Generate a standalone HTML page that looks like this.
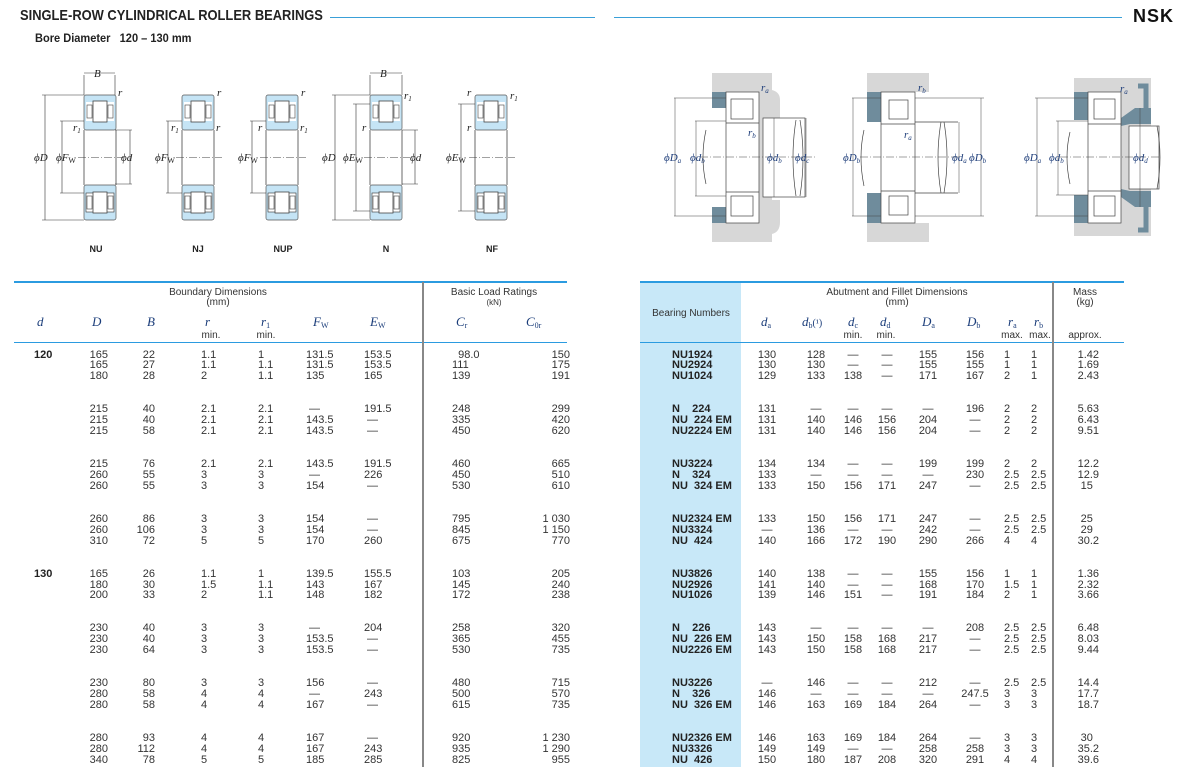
<!DOCTYPE html>
<html><head><meta charset="utf-8"><style>
*{margin:0;padding:0;box-sizing:border-box}
body{width:1189px;height:767px;background:#fff;position:relative;overflow:hidden;font-family:"Liberation Sans",sans-serif;color:#222}
.a{position:absolute}
.c{position:absolute;top:349.5px;white-space:pre;font-size:11px;line-height:10.95px;color:#333}
.b{font-weight:bold;color:#222}
.h{position:absolute;font-size:10px;color:#333;text-align:center;white-space:nowrap;line-height:10px}
.s{position:absolute;font-family:"Liberation Serif",serif;font-style:italic;font-size:13px;color:#1b3d7a;white-space:nowrap}
.s sub{font-size:8px;font-style:normal;vertical-align:-2px}
</style></head><body>
<div class="a" style="left:20px;top:7px;font-size:15px;font-weight:bold;transform:scaleX(0.86);transform-origin:left;white-space:nowrap;color:#222">SINGLE-ROW CYLINDRICAL ROLLER BEARINGS</div>
<div class="a" style="left:330px;top:17px;width:265px;height:1px;background:#3aa0d8"></div>
<div class="a" style="left:614px;top:17px;width:508px;height:1px;background:#3aa0d8"></div>
<div class="a" style="left:1133px;top:6px;font-size:18px;font-weight:bold;color:#111;letter-spacing:1px">NSK</div>
<div class="a" style="left:35px;top:33px;font-size:11.5px;font-weight:bold;transform:scaleX(0.96);transform-origin:left;white-space:pre;color:#222">Bore Diameter   120 – 130 mm</div>

<svg class="a" style="left:0;top:0" width="1189" height="270" viewBox="0 0 1189 270">
<defs>
<g id="brg">
<rect x="0" y="0" width="32" height="35" rx="2" fill="#c5e4f5" stroke="#555" stroke-width="0.7"/>
<rect x="2" y="7" width="28" height="19" fill="#fff" stroke="none"/>
<rect x="9" y="6" width="14" height="21" fill="#fff" stroke="#444" stroke-width="0.8"/>
<rect x="3" y="10" width="5" height="13" fill="#fff" stroke="#444" stroke-width="0.6"/>
<rect x="24" y="10" width="5" height="13" fill="#fff" stroke="#444" stroke-width="0.6"/>
<rect x="0" y="90" width="32" height="35" rx="2" fill="#c5e4f5" stroke="#555" stroke-width="0.7"/>
<rect x="2" y="98" width="28" height="19" fill="#fff"/>
<rect x="9" y="97" width="14" height="21" fill="#fff" stroke="#444" stroke-width="0.8"/>
<rect x="3" y="101" width="5" height="13" fill="#fff" stroke="#444" stroke-width="0.6"/>
<rect x="24" y="101" width="5" height="13" fill="#fff" stroke="#444" stroke-width="0.6"/>
<line x1="0" y1="35" x2="0" y2="90" stroke="#444" stroke-width="0.8"/>
<line x1="32" y1="35" x2="32" y2="90" stroke="#444" stroke-width="0.8"/>
<line x1="-6" y1="62.5" x2="40" y2="62.5" stroke="#444" stroke-width="0.6" stroke-dasharray="8,2,1,2"/>
</g>
</defs>
<g stroke="#333" stroke-width="0.6" fill="none">
<use href="#brg" x="84" y="95"/>
<use href="#brg" x="182" y="95"/>
<use href="#brg" x="266" y="95"/>
<use href="#brg" x="370" y="95"/>
<use href="#brg" x="475" y="95"/>
<path d="M84 75V95M115 75V95M84 73H115"/>
<path d="M42 95H84M42 220H84M45 95V220"/>
<path d="M60 121H84M60 193H84M62 121V193"/>
<path d="M115 130H132M115 184H132M130 130V184"/>
<path d="M166 121H182M166 193H182M168 121V193"/>
<path d="M250 121H266M250 193H266M252 121V193"/>
<path d="M370 75V95M402 75V95M370 73H402"/>
<path d="M332 95H370M332 220H370M335 95V220"/>
<path d="M353 104H370M353 211H370M356 104V211"/>
<path d="M402 130H418M402 184H418M415 130V184"/>
<path d="M458 104H475M458 211H475M461 104V211"/>
</g>
<g font-family="Liberation Serif,serif" font-style="italic" font-size="11" fill="#222">
<text x="94" y="77">B</text><text x="380" y="77">B</text>
<text x="118" y="96">r</text><text x="73" y="131">r<tspan font-size="7" dy="2">1</tspan></text>
<text x="34" y="161">ϕD</text><text x="56" y="161">ϕF<tspan font-size="8" dy="2" font-style="normal">W</tspan></text><text x="121" y="161">ϕd</text>
<text x="217" y="96">r</text><text x="216" y="131">r</text><text x="171" y="131">r<tspan font-size="7" dy="2">1</tspan></text>
<text x="155" y="161">ϕF<tspan font-size="8" dy="2" font-style="normal">W</tspan></text>
<text x="301" y="96">r</text><text x="300" y="131">r<tspan font-size="7" dy="2">1</tspan></text><text x="258" y="131">r</text>
<text x="238" y="161">ϕF<tspan font-size="8" dy="2" font-style="normal">W</tspan></text>
<text x="404" y="99">r<tspan font-size="7" dy="2">1</tspan></text><text x="362" y="131">r</text>
<text x="322" y="161">ϕD</text><text x="343" y="161">ϕE<tspan font-size="8" dy="2" font-style="normal">W</tspan></text><text x="410" y="161">ϕd</text>
<text x="467" y="96">r</text><text x="510" y="99">r<tspan font-size="7" dy="2">1</tspan></text><text x="467" y="131">r</text>
<text x="446" y="161">ϕE<tspan font-size="8" dy="2" font-style="normal">W</tspan></text>
</g>
<g font-family="Liberation Sans,sans-serif" font-weight="bold" font-size="9" fill="#222" text-anchor="middle">
<text x="96" y="252">NU</text><text x="198" y="252">NJ</text><text x="283" y="252">NUP</text><text x="386" y="252">N</text><text x="492" y="252">NF</text>
</g>

<g stroke="#444" stroke-width="0.7">
<path d="M712 73H772V90Q780 92 780 100V120H772V200H780V222Q780 232 772 234V242H712Z" fill="#d7d7d7" stroke="none"/>
<rect x="712" y="92" width="14" height="16" fill="#6f8c9c" stroke="none"/>
<rect x="712" y="207" width="14" height="16" fill="#6f8c9c" stroke="none"/>
<rect x="712" y="108" width="14" height="99" fill="#fff" stroke="none"/>
<rect x="726" y="92" width="33" height="131" fill="#fff"/>
<rect x="731" y="99" width="22" height="20" fill="#fff"/><rect x="731" y="196" width="22" height="20" fill="#fff"/>
<line x1="726" y1="123" x2="759" y2="123"/><line x1="726" y1="192" x2="759" y2="192"/>
<rect x="763" y="118" width="42" height="79" fill="#fff"/>
<path d="M706 130Q700 157 706 184M796 120Q790 157 796 196M800 120Q806 157 800 196" fill="none"/>
<line x1="674" y1="98" x2="726" y2="98" stroke-width="0.5"/><line x1="674" y1="216" x2="726" y2="216" stroke-width="0.5"/><line x1="675" y1="98" x2="675" y2="216" stroke-width="0.5"/>
<line x1="695" y1="121" x2="726" y2="121" stroke-width="0.5"/><line x1="695" y1="196" x2="726" y2="196" stroke-width="0.5"/><line x1="696" y1="121" x2="696" y2="196" stroke-width="0.5"/>
<line x1="774" y1="118" x2="774" y2="197" stroke-width="0.5"/><line x1="806" y1="118" x2="806" y2="197" stroke-width="0.5"/>
<line x1="700" y1="157" x2="815" y2="157" stroke-width="0.5" stroke-dasharray="8,2,1,2"/>
<path d="M867 73H929V92H915V223H929V242H867Z" fill="#d7d7d7" stroke="none"/>
<rect x="867" y="92" width="14" height="131" fill="#6f8c9c" stroke="none"/>
<rect x="867" y="122" width="14" height="71" fill="#fff" stroke="none"/>
<rect x="881" y="92" width="34" height="131" fill="#fff"/>
<rect x="889" y="100" width="19" height="19" fill="#fff"/><rect x="889" y="196" width="19" height="19" fill="#fff"/>
<line x1="881" y1="124" x2="915" y2="124"/><line x1="881" y1="191" x2="915" y2="191"/>
<path d="M915 122H958M915 193H958M864 130Q858 157 864 186M941 122Q935 157 941 193M944 122Q950 157 944 193" fill="none"/>
<line x1="852" y1="98" x2="881" y2="98" stroke-width="0.5"/><line x1="852" y1="216" x2="881" y2="216" stroke-width="0.5"/><line x1="853" y1="98" x2="853" y2="216" stroke-width="0.5"/>
<line x1="915" y1="98" x2="984" y2="98" stroke-width="0.5"/><line x1="915" y1="216" x2="984" y2="216" stroke-width="0.5"/><line x1="981" y1="98" x2="981" y2="216" stroke-width="0.5"/>
<line x1="959" y1="122" x2="959" y2="193" stroke-width="0.5"/>
<line x1="860" y1="157" x2="960" y2="157" stroke-width="0.5" stroke-dasharray="8,2,1,2"/>
<path d="M1074 78H1151V236H1074Z" fill="#d7d7d7" stroke="none"/>
<rect x="1074" y="92" width="14" height="131" fill="#6f8c9c" stroke="none"/>
<rect x="1074" y="120" width="14" height="75" fill="#fff" stroke="none"/>
<path d="M1121 118L1135 108H1151V124H1130L1121 126Z" fill="#6f8c9c" stroke="none"/>
<path d="M1121 197L1135 207H1151V191H1130L1121 189Z" fill="#6f8c9c" stroke="none"/>
<path d="M1138 86H1146V120M1138 230H1146V195" stroke="#6f8c9c" stroke-width="5" fill="none"/>
<rect x="1088" y="92" width="33" height="131" fill="#fff"/>
<rect x="1094" y="99" width="21" height="20" fill="#fff"/><rect x="1094" y="196" width="21" height="20" fill="#fff"/>
<line x1="1088" y1="124" x2="1121" y2="124"/><line x1="1088" y1="191" x2="1121" y2="191"/>
<rect x="1129" y="126" width="30" height="63" fill="#fff"/>
<path d="M1070 132Q1064 157 1070 184M1157 126Q1163 157 1157 189" fill="none"/>
<line x1="1035" y1="98" x2="1088" y2="98" stroke-width="0.5"/><line x1="1035" y1="216" x2="1088" y2="216" stroke-width="0.5"/><line x1="1037" y1="98" x2="1037" y2="216" stroke-width="0.5"/>
<line x1="1056" y1="121" x2="1088" y2="121" stroke-width="0.5"/><line x1="1056" y1="195" x2="1088" y2="195" stroke-width="0.5"/><line x1="1058" y1="121" x2="1058" y2="195" stroke-width="0.5"/>
<line x1="1140" y1="108" x2="1140" y2="207" stroke-width="0.5"/>
<line x1="1060" y1="157" x2="1160" y2="157" stroke-width="0.5" stroke-dasharray="8,2,1,2"/>
</g>
<g font-family="Liberation Serif,serif" font-style="italic" font-size="11" fill="#1f3e7a">
<text x="761" y="91">r<tspan font-size="7" dy="2">a</tspan></text><text x="748" y="136">r<tspan font-size="7" dy="2">b</tspan></text>
<text x="664" y="161">ϕD<tspan font-size="7" dy="2">a</tspan></text><text x="690" y="161">ϕd<tspan font-size="7" dy="2">b</tspan></text>
<text x="767" y="161">ϕd<tspan font-size="7" dy="2">b</tspan></text><text x="795" y="161">ϕd<tspan font-size="7" dy="2">c</tspan></text>
<text x="918" y="91">r<tspan font-size="7" dy="2">b</tspan></text><text x="904" y="138">r<tspan font-size="7" dy="2">a</tspan></text>
<text x="843" y="161">ϕD<tspan font-size="7" dy="2">b</tspan></text><text x="952" y="161">ϕd<tspan font-size="7" dy="2">a</tspan></text><text x="969" y="161">ϕD<tspan font-size="7" dy="2">b</tspan></text>
<text x="1120" y="92">r<tspan font-size="7" dy="2">a</tspan></text>
<text x="1024" y="161">ϕD<tspan font-size="7" dy="2">a</tspan></text><text x="1049" y="161">ϕd<tspan font-size="7" dy="2">b</tspan></text><text x="1133" y="161">ϕd<tspan font-size="7" dy="2">d</tspan></text>
</g>
</svg>

<div class="a" style="left:640px;top:282px;width:101px;height:485px;background:#c8e8f8"></div>
<div class="a" style="left:14px;top:281px;width:553px;height:2px;background:#2b9be0"></div>
<div class="a" style="left:14px;top:342px;width:553px;height:1px;background:#2b9be0"></div>
<div class="a" style="left:422px;top:282px;width:2px;height:485px;background:#888"></div>
<div class="a" style="left:640px;top:281px;width:484px;height:2px;background:#2b9be0"></div>
<div class="a" style="left:640px;top:342px;width:484px;height:1px;background:#2b9be0"></div>
<div class="a" style="left:1052px;top:282px;width:2px;height:485px;background:#888"></div>

<div class="h" style="left:168px;top:288px;width:100px">Boundary Dimensions<br>(mm)</div>
<div class="h" style="left:444px;top:288px;width:100px">Basic Load Ratings<br><span style="font-size:8px">(kN)</span></div>
<div class="s" style="left:37px;top:314px">d</div>
<div class="s" style="left:92px;top:314px">D</div>
<div class="s" style="left:147px;top:314px">B</div>
<div class="s" style="left:205px;top:314px">r</div>
<div class="s" style="left:261px;top:314px">r<sub>1</sub></div>
<div class="s" style="left:313px;top:314px">F<sub>W</sub></div>
<div class="s" style="left:370px;top:314px">E<sub>W</sub></div>
<div class="s" style="left:456px;top:314px">C<sub>r</sub></div>
<div class="s" style="left:526px;top:314px">C<sub>0r</sub></div>
<div class="h" style="left:196px;top:331px;width:30px">min.</div>
<div class="h" style="left:251px;top:331px;width:30px">min.</div>

<div class="h" style="left:641px;top:309px;width:100px">Bearing Numbers</div>
<div class="h" style="left:817px;top:288px;width:160px">Abutment and Fillet Dimensions<br>(mm)</div>
<div class="h" style="left:1060px;top:288px;width:50px">Mass<br>(kg)</div>
<div class="h" style="left:1060px;top:331px;width:50px">approx.</div>
<div class="s" style="left:761px;top:314px">d<sub>a</sub></div>
<div class="s" style="left:802px;top:314px">d<sub>b</sub><span style="font-style:normal;font-size:10px">(¹)</span></div>
<div class="s" style="left:848px;top:314px">d<sub>c</sub></div>
<div class="s" style="left:880px;top:314px">d<sub>d</sub></div>
<div class="s" style="left:922px;top:314px">D<sub>a</sub></div>
<div class="s" style="left:967px;top:314px">D<sub>b</sub></div>
<div class="s" style="left:1008px;top:314px">r<sub>a</sub></div>
<div class="s" style="left:1034px;top:314px">r<sub>b</sub></div>
<div class="h" style="left:838px;top:331px;width:30px">min.</div>
<div class="h" style="left:871px;top:331px;width:30px">min.</div>
<div class="h" style="left:997px;top:331px;width:30px">max.</div>
<div class="h" style="left:1025px;top:331px;width:30px">max.</div>

<div class="c b" style="left:34px">120



















130</div>
<div class="c" style="left:80px;width:28px;text-align:right">165
165
180


215
215
215


215
260
260


260
260
310


165
180
200


230
230
230


230
280
280


280
280
340</div>
<div class="c" style="left:130px;width:25px;text-align:right">22
27
28


40
40
58


76
55
55


86
106
72


26
30
33


40
40
64


80
58
58


93
112
78</div>
<div class="c" style="left:201px">1.1
1.1
2


2.1
2.1
2.1


2.1
3
3


3
3
5


1.1
1.5
2


3
3
3


3
4
4


4
4
5</div>
<div class="c" style="left:258px">1
1.1
1.1


2.1
2.1
2.1


2.1
3
3


3
3
5


1
1.1
1.1


3
3
3


3
4
4


4
4
5</div>
<div class="c" style="left:306px">131.5
131.5
135


 —
143.5
143.5


143.5
 —
154


154
154
170


139.5
143
148


 —
153.5
153.5


156
 —
167


167
167
185</div>
<div class="c" style="left:364px">153.5
153.5
165


191.5
 —
 —


191.5
226
 —


 —
 —
260


155.5
167
182


204
 —
 —


 —
243
 —


 —
243
285</div>
<div class="c" style="left:452px">  98.0
111
139


248
335
450


460
450
530


795
845
675


103
145
172


258
365
530


480
500
615


920
935
825</div>
<div class="c" style="left:530px;width:40px;text-align:right">150
175
191


299
420
620


665
510
610


1 030
1 150
770


205
240
238


320
455
735


715
570
735


1 230
1 290
955</div>

<div class="c b" style="left:672px">NU1924
NU2924
NU1024


N    224
NU  224 EM
NU2224 EM


NU3224
N    324
NU  324 EM


NU2324 EM
NU3324
NU  424


NU3826
NU2926
NU1026


N    226
NU  226 EM
NU2226 EM


NU3226
N    326
NU  326 EM


NU2326 EM
NU3326
NU  426</div>
<div class="c" style="left:752px;width:30px;text-align:center">130
130
129


131
131
131


134
133
133


133
—
140


140
141
139


143
143
143


—
146
146


146
149
150</div>
<div class="c" style="left:801px;width:30px;text-align:center">128
130
133


—
140
140


134
—
150


150
136
166


138
140
146


—
150
150


146
—
163


163
149
180</div>
<div class="c" style="left:838px;width:30px;text-align:center">—
—
138


—
146
146


—
—
156


156
—
172


—
—
151


—
158
158


—
—
169


169
—
187</div>
<div class="c" style="left:872px;width:30px;text-align:center">—
—
—


—
156
156


—
—
171


171
—
190


—
—
—


—
168
168


—
—
184


184
—
208</div>
<div class="c" style="left:913px;width:30px;text-align:center">155
155
171


—
204
204


199
—
247


247
242
290


155
168
191


—
217
217


212
—
264


264
258
320</div>
<div class="c" style="left:960px;width:30px;text-align:center">156
155
167


196
—
—


199
230
—


—
—
266


156
170
184


208
—
—


—
247.5
—


—
258
291</div>
<div class="c" style="left:1004px">1
1
2


2
2
2


2
2.5
2.5


2.5
2.5
4


1
1.5
2


2.5
2.5
2.5


2.5
3
3


3
3
4</div>
<div class="c" style="left:1031px">1
1
1


2
2
2


2
2.5
2.5


2.5
2.5
4


1
1
1


2.5
2.5
2.5


2.5
3
3


3
3
4</div>
<div class="c" style="left:1060px;width:39px;text-align:right">1.42
1.69
2.43


5.63
6.43
9.51


12.2
12.9
15  


25  
29  
30.2


1.36
2.32
3.66


6.48
8.03
9.44


14.4
17.7
18.7


30  
35.2
39.6</div>
</body></html>
